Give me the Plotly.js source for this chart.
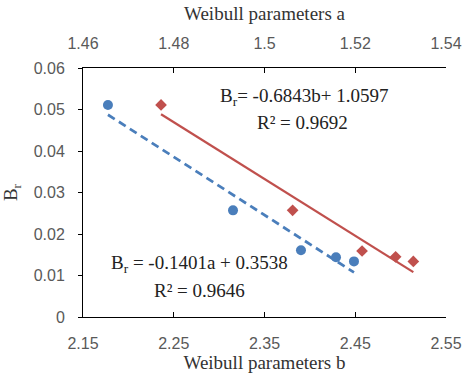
<!DOCTYPE html>
<html>
<head>
<meta charset="utf-8">
<script src="https://cdn.plot.ly/plotly-3.0.1.min.js"></script>
<style>html,body{margin:0;padding:0;background:#fff;}#chart{width:463px;height:378px;}</style>
</head>
<body>
<div id="chart"></div>
<script>
// Blue series: Br vs Weibull parameter b (bottom axis)
const bValues = [2.1775, 2.3153, 2.3902, 2.4288, 2.4486];
const brBlue = [0.0511, 0.0257, 0.0161, 0.0144, 0.0134];
// Red series: Br vs Weibull parameter a (top axis)
const aValues = [1.4772, 1.5062, 1.5215, 1.5289, 1.5328];
const brRed = [0.0511, 0.0257, 0.0159, 0.0145, 0.0134];
// Trendline coefficients [slope, intercept]
const blueFit = [-0.1401, 0.3538];
const redFit = [-0.6843, 1.0597];
const bTicks = [2.15, 2.25, 2.35, 2.45, 2.55];
const aTicks = [1.46, 1.48, 1.5, 1.52, 1.54];
const yTicks = [0, 0.01, 0.02, 0.03, 0.04, 0.05, 0.06];

const blueLineX = [Math.min(...bValues), Math.max(...bValues)];
const redLineX = [Math.min(...aValues), Math.max(...aValues)];

const BLUE = '#4A7EBB', RED = '#C0504D';
const serif = 'Liberation Serif, Times New Roman, serif';
const sans = 'Liberation Sans, Arial, sans-serif';
const tickFont = {family: sans, size: 16, color: '#595959'};
const titleFont = {family: serif, size: 19, color: '#333'};
const annFont = {family: serif, size: 19, color: '#222'};

const traces = [
  {x: blueLineX, y: blueLineX.map(v => blueFit[0]*v + blueFit[1]), mode: 'lines', xaxis: 'x', yaxis: 'y',
   line: {color: BLUE, width: 2.75, dash: '8px,5px'}, showlegend: false, hoverinfo: 'skip'},
  {x: redLineX, y: redLineX.map(v => redFit[0]*v + redFit[1]), mode: 'lines', xaxis: 'x2', yaxis: 'y',
   line: {color: RED, width: 2.25}, showlegend: false, hoverinfo: 'skip'},
  {x: bValues, y: brBlue, mode: 'markers', xaxis: 'x', yaxis: 'y',
   marker: {color: BLUE, size: 10, symbol: 'circle'}, showlegend: false},
  {x: aValues, y: brRed, mode: 'markers', xaxis: 'x2', yaxis: 'y',
   marker: {color: RED, size: 9, symbol: 'diamond'}, showlegend: false}
];

const layout = {
  width: 463, height: 378,
  margin: {l: 83, r: 17, t: 68, b: 61},
  paper_bgcolor: '#fff', plot_bgcolor: '#fff',
  showlegend: false,
  xaxis: {
    range: [2.15, 2.55], tickvals: bTicks, ticktext: bTicks.map(String),
    showgrid: false, zeroline: false, showline: true, linecolor: '#000', linewidth: 1,
    ticks: 'inside', ticklen: 5, tickcolor: '#000', ticklabelstandoff: 12,
    tickfont: tickFont,
    title: {text: 'Weibull parameters b', font: titleFont, standoff: 2}
  },
  xaxis2: {
    overlaying: 'x', side: 'top', anchor: 'y',
    range: [1.46, 1.54], tickvals: aTicks, ticktext: aTicks.map(String),
    showgrid: false, zeroline: false, showline: true, linecolor: '#000', linewidth: 1,
    ticks: 'inside', ticklen: 5, tickcolor: '#000', ticklabelstandoff: 12,
    tickfont: tickFont,
    title: {text: 'Weibull parameters a', font: titleFont, standoff: 8}
  },
  yaxis: {
    range: [0, 0.06], tickvals: yTicks, ticktext: yTicks.map(String),
    showgrid: false, zeroline: false, showline: true, linecolor: '#000', linewidth: 1,
    ticks: 'outside', ticklen: 4, tickcolor: '#000', ticklabelstandoff: 10,
    tickfont: tickFont,
    title: {text: 'B<sub>r</sub>', font: titleFont, standoff: 13}
  },
  annotations: [
    {xref: 'paper', yref: 'paper', x: 0.609, y: 0.884, xanchor: 'center', yanchor: 'middle', showarrow: false,
     text: 'B<sub>r</sub>= -0.6843b+ 1.0597', font: annFont},
    {xref: 'paper', yref: 'paper', x: 0.606, y: 0.783, xanchor: 'center', yanchor: 'middle', showarrow: false,
     text: 'R² = 0.9692', font: annFont},
    {xref: 'paper', yref: 'paper', x: 0.322, y: 0.213, xanchor: 'center', yanchor: 'middle', showarrow: false,
     text: 'B<sub>r</sub> = -0.1401a + 0.3538', font: annFont},
    {xref: 'paper', yref: 'paper', x: 0.322, y: 0.108, xanchor: 'center', yanchor: 'middle', showarrow: false,
     text: 'R² = 0.9646', font: annFont}
  ]
};

Plotly.newPlot('chart', traces, layout, {displayModeBar: false, staticPlot: true});
</script>
</body>
</html>
